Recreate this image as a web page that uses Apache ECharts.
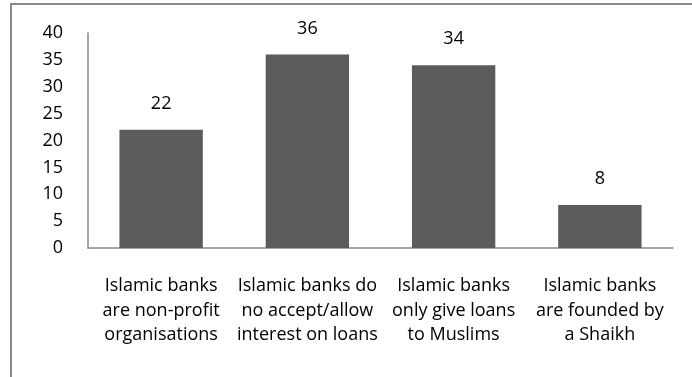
<!DOCTYPE html>
<html>
<head>
<meta charset="utf-8">
<script src="https://cdn.jsdelivr.net/npm/echarts@6/dist/echarts.min.js"></script>
<style>
  html, body { margin: 0; padding: 0; background: #fff; }
  #chart { width: 692px; height: 377px; }
</style>
</head>
<body>
<div id="chart"></div>
<script>
// Survey statements about Islamic banks, with the share of responses for each
const categories = [
  'Islamic banks\nare non-profit\norganisations',
  'Islamic banks do\nno accept/allow\ninterest on loans',
  'Islamic banks\nonly give loans\nto Muslims',
  'Islamic banks\nare founded by\na Shaikh'
];
const values = [22, 36, 34, 8];
const yTicks = [0, 5, 10, 15, 20, 25, 30, 35, 40];

const FONT = '"Open Sans", "Liberation Sans", sans-serif';
const chart = echarts.init(document.getElementById('chart'));

chart.setOption({
  animation: false,
  graphic: [{
    type: 'rect',
    shape: { x: 11, y: 4, width: 720, height: 420 },
    style: { fill: 'none', stroke: '#898989', lineWidth: 2 },
    silent: true
  }],
  grid: { left: 88, right: 19, top: 33, bottom: 129, containLabel: false },
  xAxis: {
    type: 'category',
    data: categories,
    axisTick: { show: false },
    axisLine: { lineStyle: { color: '#898989', width: 1.5 } },
    axisLabel: {
      color: '#000',
      fontFamily: FONT,
      fontSize: 18,
      lineHeight: 24.5,
      margin: 26,
      interval: 0
    }
  },
  yAxis: {
    type: 'value',
    min: yTicks[0],
    max: yTicks[yTicks.length - 1],
    interval: 5,
    splitLine: { show: false },
    axisTick: { show: false },
    axisLine: { show: true, lineStyle: { color: '#898989', width: 1.5 } },
    axisLabel: {
      color: '#000',
      fontFamily: FONT,
      fontSize: 18,
      margin: 25
    }
  },
  series: [{
    type: 'bar',
    data: values,
    barWidth: '57%',
    itemStyle: { color: '#5b5b5b' },
    label: {
      show: true,
      position: 'top',
      distance: 17,
      color: '#000',
      fontFamily: FONT,
      fontSize: 18
    }
  }]
});
</script>
</body>
</html>
